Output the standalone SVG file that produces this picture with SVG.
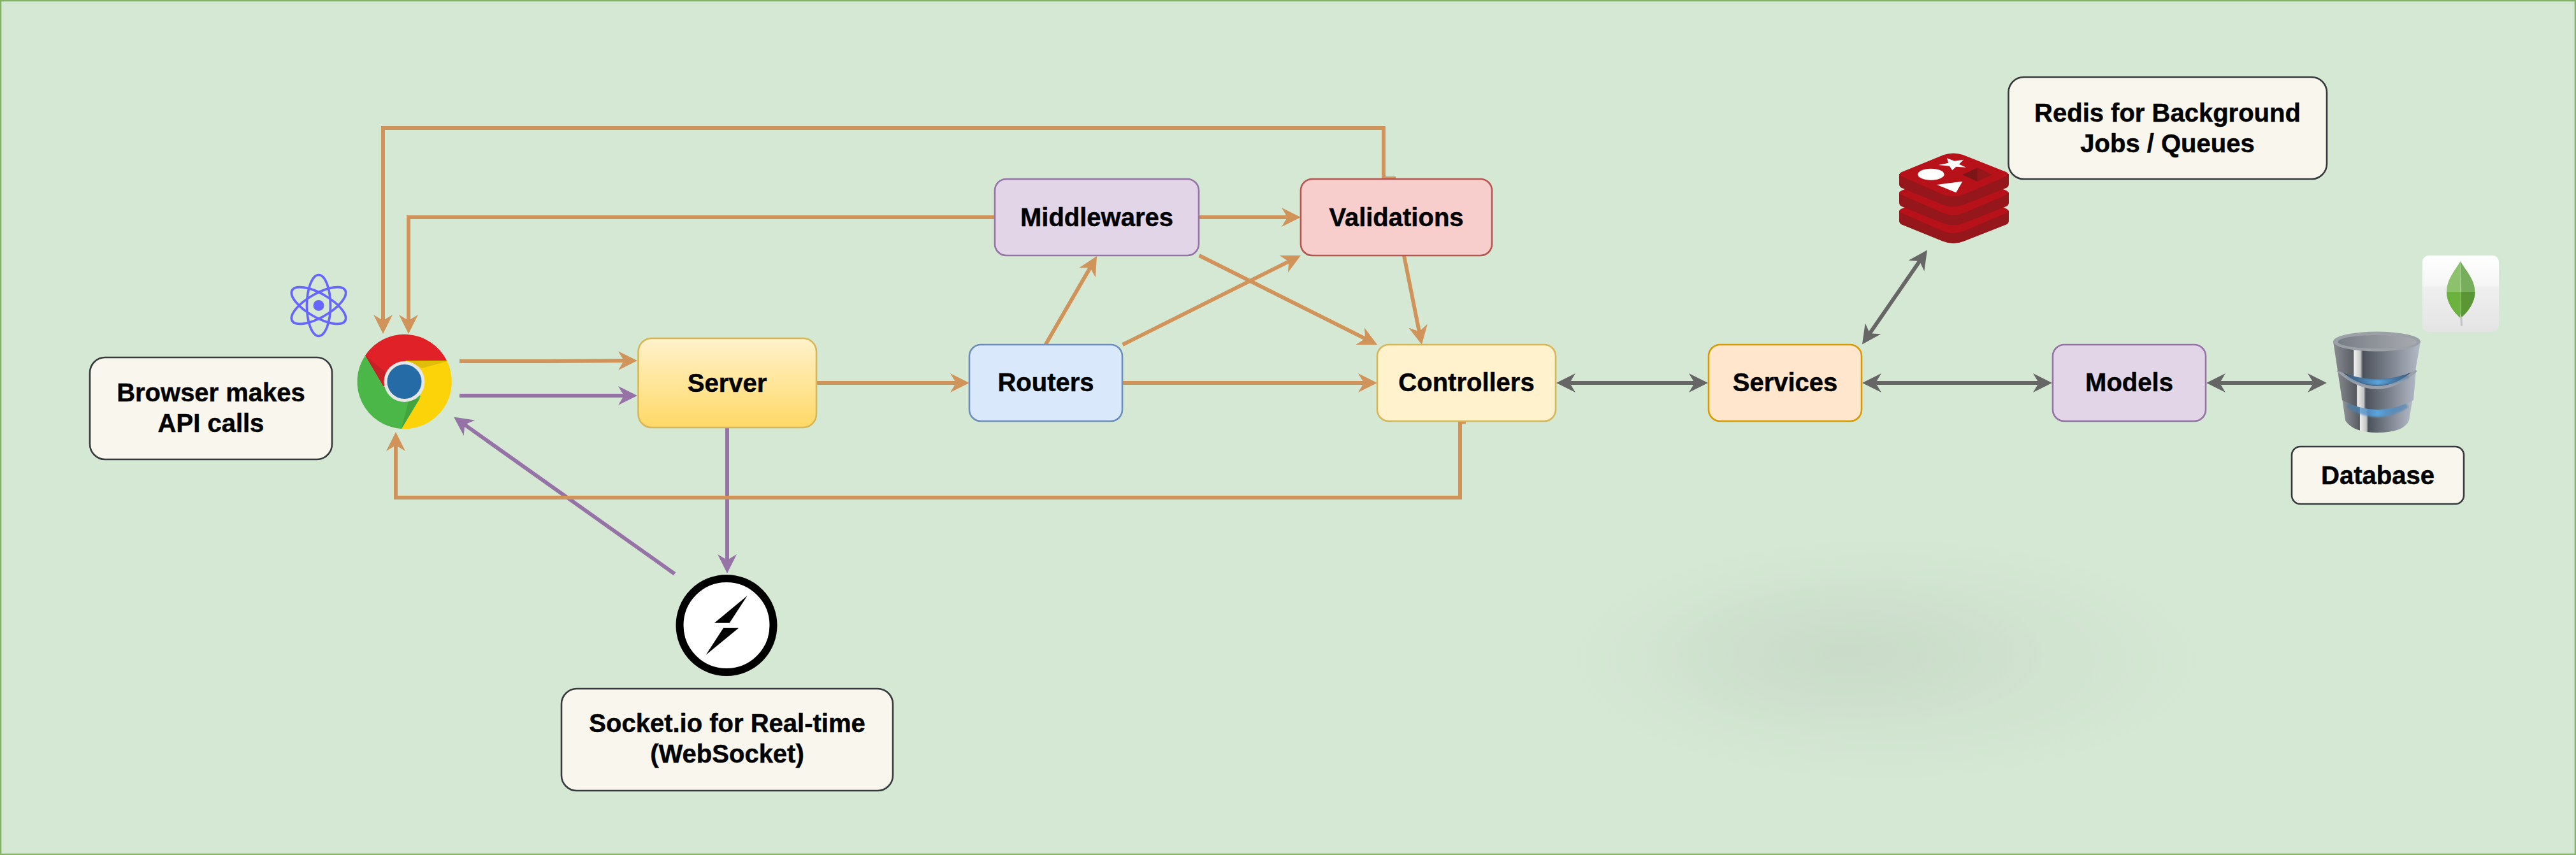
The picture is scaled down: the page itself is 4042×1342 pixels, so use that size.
<svg xmlns="http://www.w3.org/2000/svg" width="4042" height="1342" viewBox="0 0 4042 1342">
<style>
.n{stroke-width:2.6}
.t{font-family:"Liberation Sans",Arial,Helvetica,sans-serif;font-weight:700;font-size:40px;fill:#000;stroke:#000;stroke-width:.5;text-anchor:middle}
.c{fill:none;stroke-width:6}
.o{stroke:#d0935a}
.p{stroke:#9673a6}
.g{stroke:#666}
.oa{marker-end:url(#ao)}
.pa{marker-end:url(#ap)}
.ga{marker-end:url(#ag);marker-start:url(#ag)}
.note{fill:#f9f7ed;stroke:#36393d}
</style>
<defs>
<marker id="ao" markerUnits="userSpaceOnUse" markerWidth="30" markerHeight="30" viewBox="0 0 30 30" refX="18" refY="15" orient="auto-start-reverse"><path d="M0,0L30,15L0,30L9,15Z" fill="#d0935a"/></marker>
<marker id="ap" markerUnits="userSpaceOnUse" markerWidth="30" markerHeight="30" viewBox="0 0 30 30" refX="18" refY="15" orient="auto-start-reverse"><path d="M0,0L30,15L0,30L9,15Z" fill="#9673a6"/></marker>
<marker id="ag" markerUnits="userSpaceOnUse" markerWidth="30" markerHeight="30" viewBox="0 0 30 30" refX="18" refY="15" orient="auto-start-reverse"><path d="M0,0L30,15L0,30L9,15Z" fill="#666"/></marker>
<linearGradient id="sv" x1="0" y1="0" x2="0" y2="1"><stop offset="0" stop-color="#fff2cc"/><stop offset="1" stop-color="#ffd966"/></linearGradient>
<radialGradient id="sh"><stop offset="0" stop-color="#000" stop-opacity=".025"/><stop offset=".6" stop-color="#000" stop-opacity=".018"/><stop offset="1" stop-color="#000" stop-opacity="0"/></radialGradient>
<radialGradient id="sh2"><stop offset="0" stop-color="#000" stop-opacity=".032"/><stop offset=".5" stop-color="#000" stop-opacity=".018"/><stop offset="1" stop-color="#000" stop-opacity="0"/></radialGradient>
<linearGradient id="tile" x1="0" y1="0" x2="0" y2="1"><stop offset="0" stop-color="#fff"/><stop offset=".38" stop-color="#f6f6f6"/><stop offset=".42" stop-color="#efefef"/><stop offset="1" stop-color="#e4e4e4"/></linearGradient>
<linearGradient id="db1" gradientUnits="userSpaceOnUse" x1="3661" x2="3798" y1="0" y2="0"><stop offset="0" stop-color="#8a8d92"/><stop offset=".23" stop-color="#5b5f66"/><stop offset=".24" stop-color="#f0f0f0"/><stop offset=".31" stop-color="#c8c8c8"/><stop offset=".34" stop-color="#4c525b"/><stop offset="1" stop-color="#b5bbc7"/></linearGradient>
<linearGradient id="db2" gradientUnits="userSpaceOnUse" x1="3668" x2="3791" y1="0" y2="0"><stop offset="0" stop-color="#85888d"/><stop offset=".24" stop-color="#55595f"/><stop offset=".25" stop-color="#ececec"/><stop offset=".33" stop-color="#c4c4c4"/><stop offset=".36" stop-color="#4c525b"/><stop offset="1" stop-color="#b1b8c4"/></linearGradient>
<linearGradient id="db3" gradientUnits="userSpaceOnUse" x1="3677" x2="3783" y1="0" y2="0"><stop offset="0" stop-color="#8d9095"/><stop offset=".24" stop-color="#585c63"/><stop offset=".25" stop-color="#ececec"/><stop offset=".34" stop-color="#c4c4c4"/><stop offset=".37" stop-color="#4c525b"/><stop offset="1" stop-color="#b1b8c4"/></linearGradient>
<linearGradient id="dbt"><stop offset="0" stop-color="#787e86"/><stop offset="1" stop-color="#a7abb0"/></linearGradient>
<linearGradient id="bl"><stop offset="0" stop-color="#3c78ad" stop-opacity=".5"/><stop offset=".5" stop-color="#5aa5e0"/><stop offset="1" stop-color="#3c78ad" stop-opacity=".5"/></linearGradient>
<filter id="blur" x="-10%" y="-80%" width="120%" height="260%"><feGaussianBlur stdDeviation="1.5"/></filter>
<g id="rl">
<path d="M2980,273V289Q2980,293 2984,295L3048,321Q3065,328 3082,321L3148,295Q3152,293 3152,289V273Z" fill="#95161b"/>
<path d="M2984,270L3050,243Q3065,238 3080,243L3148,270Q3154,273 3148,277L3082,305Q3065,312 3048,305L2984,277Q2977,273 2984,270Z" fill="#b7121a"/>
</g>
</defs>
<rect x="1" y="1" width="4040" height="1340" fill="#d5e8d4" stroke="#82b366" stroke-width="2.6"/>
<g id="shadow">
<ellipse cx="2960" cy="1035" rx="510" ry="195" fill="url(#sh)"/>
<ellipse cx="2897" cy="1025" rx="330" ry="130" fill="url(#sh2)"/>
</g>

<g id="connectors">
<path class="c o oa" d="M2190,280H2171V201H601V512"/>
<path class="c o oa" d="M1561,341H641V512"/>
<path class="c o oa" d="M721,567H860L988,566"/>
<path class="c p pa" d="M721,621H988"/>
<path class="c p pa" d="M1058.6,900.7L721.8,661.4"/>
<path class="c p pa" d="M1141,671V888"/>
<path class="c o oa" d="M2300,662H2291V781H621V690"/>
<path class="c o oa" d="M1281,601H1509"/>
<path class="c o oa" d="M1762,601H2149"/>
<path class="c o oa" d="M1640.5,541L1715,412.4"/>
<path class="c o oa" d="M1761.5,541L2030.3,406.4"/>
<path class="c o oa" d="M1881.6,401L2150.3,535.6"/>
<path class="c o oa" d="M2203,401L2228.6,529.2"/>
<path class="c o oa" d="M1881,341H2029"/>
<path class="c g ga" d="M2454,601H2668"/>
<path class="c g ga" d="M2934,601H3208"/>
<path class="c g ga" d="M3474,601H3639"/>
<path class="c g ga" d="M2928.8,530.6L3017.2,402.5"/>
</g>

<g id="browser-note"><rect class="n note" x="141" y="561" width="380" height="160" rx="24"/><text class="t" x="331" y="630">Browser makes</text><text class="t" x="331" y="678">API calls</text></g>

<g id="react" fill="none" stroke="#6666ff" stroke-width="3.7">
<ellipse cx="500" cy="479.5" rx="48" ry="18.5" transform="rotate(90 500 479.5)"/>
<ellipse cx="500" cy="479.5" rx="48" ry="18.5" transform="rotate(30 500 479.5)"/>
<ellipse cx="500" cy="479.5" rx="48" ry="18.5" transform="rotate(-30 500 479.5)"/>
<circle cx="500" cy="479.5" r="8.5" fill="#6666ff" stroke="none"/>
</g>

<g id="chrome">
<path d="M573,558A74,74 0 0 1 701,566L637,566L602,607Z" fill="#e02127"/>
<path d="M701,566A74,74 0 0 1 630,673L660,622L637,599L637,566Z" fill="#fcd209"/>
<path d="M573,558A74,74 0 0 0 630,673L660,622L637,599L602,607Z" fill="#4cb749"/>
<path d="M573,558L602,607L604,583Z" fill="#c62127"/>
<path d="M702,567L662,578L640,566Z" fill="#e0bc0b"/>
<path d="M630,673L641,630L659,625Z" fill="#43a33f"/>
<circle cx="634.5" cy="599" r="32" fill="#e6e6e6"/>
<circle cx="634.5" cy="599" r="27" fill="#256ba5"/>
</g>

<g id="server"><rect class="n" x="1001.5" y="531" width="279.5" height="140" rx="21" fill="url(#sv)" stroke="#d6b656"/><text class="t" x="1141" y="614.5">Server</text></g>
<g id="routers"><rect class="n" x="1521" y="541" width="240" height="120" rx="18" fill="#dae8fc" stroke="#6c8ebf"/><text class="t" x="1641" y="614">Routers</text></g>
<g id="middlewares"><rect class="n" x="1561" y="281" width="320" height="120" rx="18" fill="#e1d5e7" stroke="#9673a6"/><text class="t" x="1721" y="354.5">Middlewares</text></g>
<g id="validations"><rect class="n" x="2041" y="281" width="300" height="120" rx="18" fill="#f8cecc" stroke="#b85450"/><text class="t" x="2191" y="354.5">Validations</text></g>
<g id="controllers"><rect class="n" x="2161" y="541" width="280" height="120" rx="18" fill="#fff2cc" stroke="#d6b656"/><text class="t" x="2301" y="614">Controllers</text></g>
<g id="services"><rect class="n" x="2681" y="541" width="240" height="120" rx="18" fill="#ffe6cc" stroke="#d79b00"/><text class="t" x="2801" y="614">Services</text></g>
<g id="models"><rect class="n" x="3221" y="541" width="240" height="120" rx="18" fill="#e1d5e7" stroke="#9673a6"/><text class="t" x="3341" y="614">Models</text></g>

<g id="socket-icon">
<ellipse cx="1140" cy="981.5" rx="73.5" ry="73.5" fill="#fff" stroke="#000" stroke-width="12"/>
<path d="M1172.6,935L1121,977.7H1144.7ZM1159,985.7H1135L1107.6,1028Z" fill="#000"/>
</g>
<g id="socket-note"><rect class="n note" x="881" y="1081" width="520" height="160" rx="24"/><text class="t" x="1141" y="1149">Socket.io for Real-time</text><text class="t" x="1141" y="1197">(WebSocket)</text></g>

<g id="redis-icon">
<use href="#rl" y="57.5"/>
<use href="#rl" y="29"/>
<use href="#rl"/>
<path d="M3041.7,259L3057.3,255.7L3055,248.3L3066.7,252.7L3081,250.7L3074,257.7L3085,262.7L3069.3,261.7L3063.3,267.3L3059,260.7Z" fill="#fff"/>
<ellipse cx="3030" cy="273.7" rx="20.7" ry="9" fill="#fff"/>
<path d="M3039.3,290L3079.3,284.7L3069.3,302.3Z" fill="#fff"/>
<path d="M3079.3,274.3L3102.7,263.3V285Z" fill="#7a1518"/>
<path d="M3102.7,263.3L3126,274.3L3102.7,285Z" fill="#95161b"/>
</g>
<g id="redis-note"><rect class="n note" x="3151.5" y="121" width="499.5" height="160" rx="24"/><text class="t" x="3401" y="190.5">Redis for Background</text><text class="t" x="3401" y="238.5">Jobs / Queues</text></g>

<g id="mongodb-icon">
<rect x="3801" y="401" width="120" height="120" rx="10" fill="url(#tile)"/>
<path d="M3860.7,410C3852,425 3839,438 3839,459C3839,475 3850,490 3860.7,499V458Z" fill="#8bc26b"/>
<path d="M3860.7,410C3869,425 3883.5,438 3883.5,459C3883.5,475 3872,490 3861.5,499V458Z" fill="#76ae5c"/>
<path d="M3839,458C3839,475 3850,490 3860.7,499V458Z" fill="#6bb23e"/>
<path d="M3883.5,458C3883.5,475 3872,490 3861.5,499V458Z" fill="#5a9734"/>
<path d="M3860,492L3863.5,499L3864,511.7H3861Z" fill="#c4c4c4"/>
</g>

<g id="database-icon">
<path d="M3675,624L3680,660Q3692,679 3730,679Q3772,679 3780,660L3786,624Z" fill="url(#db3)"/>
<path d="M3685,634Q3730,662 3776,634" fill="none" stroke="url(#bl)" stroke-width="13" filter="url(#blur)"/>
<path d="M3668,582L3675,628Q3730,658 3787,628L3791,582Z" fill="url(#db2)"/>
<path d="M3668,582Q3730,636 3791,582Z" fill="#3f4650"/>
<path d="M3668,581Q3730,636 3791,581" fill="none" stroke="#9aa0a9" stroke-width="5"/>
<path d="M3685,588Q3730,612 3778,588" fill="none" stroke="url(#bl)" stroke-width="10" filter="url(#blur)"/>
<path d="M3661,536L3668,582Q3730,608 3790,582L3798,536Z" fill="url(#db1)"/>
<ellipse cx="3729.5" cy="536" rx="68.5" ry="15.5" fill="#9ca1a8"/>
<ellipse cx="3730" cy="536.5" rx="61.5" ry="10.5" fill="url(#dbt)"/>
</g>
<g id="database-note"><rect class="n note" x="3596" y="701" width="270" height="90" rx="13.5"/><text class="t" x="3731" y="760">Database</text></g>
</svg>
